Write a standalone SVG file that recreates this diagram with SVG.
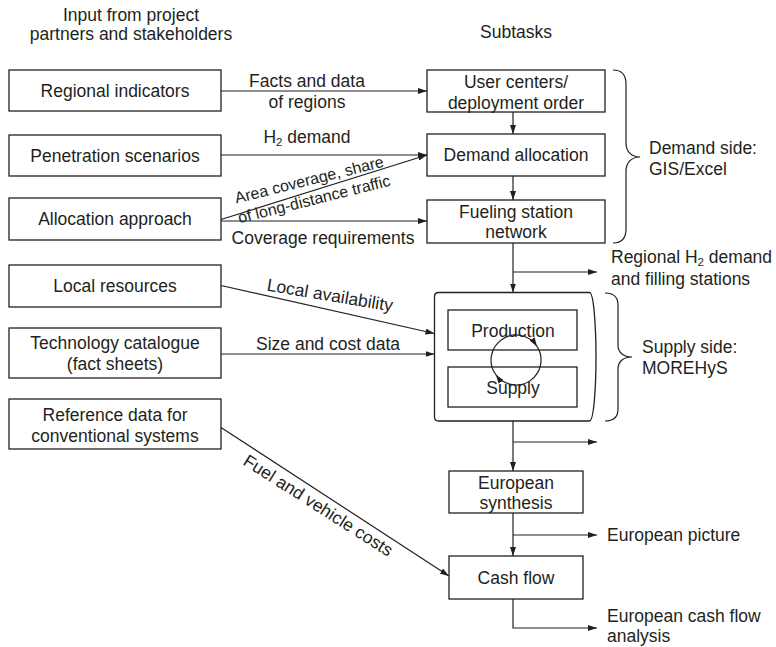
<svg xmlns="http://www.w3.org/2000/svg" width="776" height="647" viewBox="0 0 776 647">
<defs>
<style>
text{font-family:"Liberation Sans",Arial,Helvetica,sans-serif;font-size:17.5px;fill:#231f20}
.c{text-anchor:middle}
.box{fill:#fff;stroke:#231f20;stroke-width:1.3}
.ln{fill:none;stroke:#231f20;stroke-width:1.2}
.ar{marker-end:url(#ah)}
.sm{font-size:16px}
.sub{font-size:11.5px}
</style>
<marker id="ah" markerWidth="9" markerHeight="6" refX="9" refY="3" orient="auto" markerUnits="userSpaceOnUse">
<path d="M0,0 L9,3 L0,6 z" fill="#231f20"/>
</marker>
</defs>
<rect width="776" height="647" fill="#fff"/>

<g id="headings">
<text class="c" x="131" y="21">Input from project</text>
<text class="c" x="131" y="40">partners and stakeholders</text>
<text class="c" x="516" y="38">Subtasks</text>
</g>

<g id="n-regional"><rect class="box" x="9" y="70" width="212" height="41"/><text class="c" x="115" y="96.5">Regional indicators</text></g>
<g id="n-penetration"><rect class="box" x="9" y="135" width="212" height="41"/><text class="c" x="115" y="161.5">Penetration scenarios</text></g>
<g id="n-allocation"><rect class="box" x="9" y="198" width="212" height="42"/><text class="c" x="115" y="225">Allocation approach</text></g>
<g id="n-local"><rect class="box" x="9" y="265" width="212" height="42"/><text class="c" x="115" y="292">Local resources</text></g>
<g id="n-techcat"><rect class="box" x="9" y="328" width="212" height="50"/><text class="c" x="115" y="349">Technology catalogue</text><text class="c" x="115" y="370">(fact sheets)</text></g>
<g id="n-reference"><rect class="box" x="9" y="399" width="212" height="50"/><text class="c" x="115" y="421">Reference data for</text><text class="c" x="115" y="442">conventional systems</text></g>

<g id="n-usercenters"><rect class="box" x="427" y="70" width="178" height="42"/><text class="c" x="516" y="88">User centers/</text><text class="c" x="516" y="109">deployment order</text></g>
<g id="n-demandalloc"><rect class="box" x="427" y="134" width="178" height="42"/><text class="c" x="516" y="161">Demand allocation</text></g>
<g id="n-fueling"><rect class="box" x="427" y="200" width="178" height="43"/><text class="c" x="516" y="218">Fueling station</text><text class="c" x="516" y="238">network</text></g>

<g id="n-supplyside">
<path class="box" d="M438.5,292.5 H589.5 C594,292.5 596,330 596,357 C596,385 594,421 589.5,421 H438.5 Q434.5,421 434.5,417 V296.5 Q434.5,292.5 438.5,292.5 Z"/>
<g id="n-production"><rect class="box" x="448" y="310" width="129" height="40"/><text class="c" x="513" y="337">Production</text></g>
<g id="n-supply"><rect class="box" x="448" y="367" width="129" height="40"/><text class="c" x="513" y="394">Supply</text></g>
<g id="cycle">
<path class="ln ar" d="M495.8,374.7 A25,25 0 1 1 537,346.4"/>
<path class="ln ar" d="M537,346.4 A25,25 0 0 1 495.8,374.7"/>
</g>
</g>

<g id="n-eusynth"><rect class="box" x="449" y="471" width="134" height="42"/><text class="c" x="516" y="489">European</text><text class="c" x="516" y="509">synthesis</text></g>
<g id="n-cashflow"><rect class="box" x="449" y="556" width="134" height="43"/><text class="c" x="516" y="583.5">Cash flow</text></g>

<g id="braces">
<path class="ln" d="M613,70 C622,70 626,75 626,84 L626,143 C626,152 632,157 640,157 C632,157 626,162 626,171 L626,229 C626,238 622,243 613,243"/>
<text x="649" y="154">Demand side:</text>
<text x="649" y="175">GIS/Excel</text>
<path class="ln" d="M605,293 C613,293 618,297 618,305 L618,345 C618,353 624,357 632,357 C624,357 618,361 618,369 L618,409 C618,417 613,421 605,421"/>
<text x="642" y="353">Supply side:</text>
<text x="642" y="374">MOREHyS</text>
</g>

<g id="connectors">
<line class="ln ar" x1="221" y1="91" x2="427" y2="91"/>
<line class="ln ar" x1="221" y1="155" x2="427" y2="155"/>
<line class="ln ar" x1="221" y1="219.5" x2="427" y2="155"/>
<line class="ln ar" x1="221" y1="221" x2="427" y2="221"/>
<line class="ln ar" x1="513" y1="112" x2="513" y2="134"/>
<line class="ln ar" x1="513" y1="176" x2="513" y2="200"/>
<line class="ln ar" x1="513" y1="243" x2="513" y2="292.5"/>
<line class="ln ar" x1="513" y1="272" x2="597" y2="272"/>
<line class="ln ar" x1="221" y1="285.5" x2="434.5" y2="333.5"/>
<line class="ln ar" x1="221" y1="354" x2="434.5" y2="354"/>
<line class="ln ar" x1="513" y1="421" x2="513" y2="471"/>
<line class="ln ar" x1="513" y1="442" x2="597" y2="442"/>
<line class="ln ar" x1="221" y1="427.5" x2="449" y2="576"/>
<line class="ln ar" x1="513" y1="513" x2="513" y2="556"/>
<line class="ln ar" x1="513" y1="535" x2="597" y2="535"/>
<path class="ln ar" d="M513,599 V628 H597"/>
</g>

<g id="labels">
<text class="c" x="307" y="87">Facts and data</text>
<text class="c" x="307" y="108">of regions</text>
<text class="c" x="307" y="143">H<tspan class="sub" dy="3">2</tspan><tspan dy="-3"> demand</tspan></text>
<text class="c sm" transform="translate(310.5,185) rotate(-14)"><tspan x="0" y="0">Area coverage, share</tspan><tspan x="0" y="20">of long-distance traffic</tspan></text>
<text class="c" x="323" y="244">Coverage requirements</text>
<text class="c" transform="translate(329,301) rotate(9.5)">Local availability</text>
<text class="c" x="328" y="350">Size and cost data</text>
<text class="c" transform="translate(315,510.5) rotate(32.5)">Fuel and vehicle costs</text>
<text x="611" y="263">Regional H<tspan class="sub" dy="3">2</tspan><tspan dy="-3"> demand</tspan></text>
<text x="611" y="285">and filling stations</text>
<text x="607" y="541">European picture</text>
<text x="607" y="622">European cash flow</text>
<text x="607" y="642">analysis</text>
</g>
</svg>
